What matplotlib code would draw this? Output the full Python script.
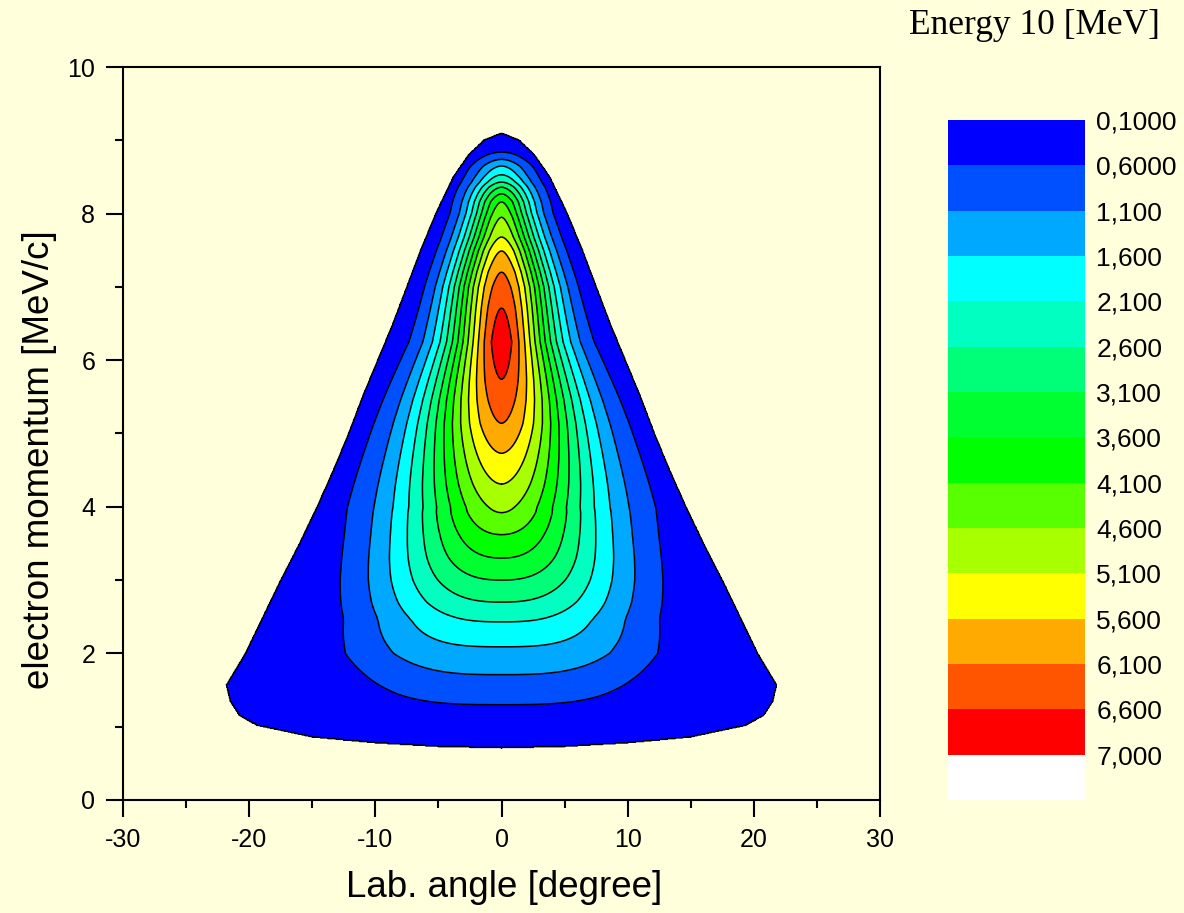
import numpy as np
import matplotlib
matplotlib.use("Agg")
import matplotlib.pyplot as plt

plt.rcParams['font.family'] = ['Liberation Sans', 'DejaVu Sans']
plt.rcParams['axes.unicode_minus'] = False

# values
# centre line (angle = 0): momentum where each level is crossed
center_y = [0.71, 1.30, 1.71, 2.09, 2.43, 2.70, 3.00, 3.30, 3.62, 3.92, 4.31, 4.73, 5.14, 5.74,
            6.25, 6.71, 7.20, 7.49, 7.68, 7.95, 8.16, 8.27, 8.36, 8.43, 8.53, 8.65, 8.74, 8.84, 9.10]
center_val = [0.1, 0.6, 1.1, 1.6, 2.1, 2.6, 3.1, 3.6, 4.1, 4.6, 5.1, 5.6, 6.1, 6.6,
              6.95, 6.6, 6.1, 5.6, 5.1, 4.6, 4.1, 3.6, 3.1, 2.6, 2.1, 1.6, 1.1, 0.6, 0.1]

# angular spread (scale and shape of the profile) at several momenta
width_y = [1.0, 1.5, 2.0, 2.5, 3.0, 4.0, 5.46, 6.25, 7.0, 8.0, 8.6, 9.1]
width_s = [13.5, 12.8, 12.8, 11.3, 10.4, 8.26, 5.9, 4.4, 3.98, 2.78, 2.5, 2.0]
width_p = [3.0, 3.0, 3.0, 2.6, 2.4, 1.85, 1.85, 1.75, 2.0, 1.8, 1.8, 1.8]

# outer (kinematic) boundary of the filled region
edge_y = [1.57, 2.0, 2.5, 3.0, 3.5, 4.0, 4.5, 5.0, 5.5, 6.0, 6.5, 7.0, 7.5, 8.0, 8.5, 8.8, 9.0, 9.1]
edge_half = [21.8, 20.3, 18.9, 17.5, 16.0, 14.6, 13.3, 12.1, 11.0, 9.8, 8.6, 7.5, 6.4, 5.2, 3.8, 2.6, 1.4, 0.0]
bottom_x = [0, 5, 10, 15, 19.4, 20.8, 21.5, 21.8]
bottom_y = [0.71, 0.73, 0.78, 0.86, 1.02, 1.16, 1.35, 1.57]

levels = [0.1, 0.6, 1.1, 1.6, 2.1, 2.6, 3.1, 3.6, 4.1, 4.6, 5.1, 5.6, 6.1, 6.6, 7.0, 7.5]
level_labels = ['0,1000', '0,6000', '1,100', '1,600', '2,100', '2,600', '3,100', '3,600',
                '4,100', '4,600', '5,100', '5,600', '6,100', '6,600', '7,000']
colors = ['#0000FF', '#0050FF', '#00A8FF', '#00FFFF', '#00FFC0', '#00FF78', '#00FF30', '#00FF00',
          '#58FF00', '#A8FF00', '#FFFF00', '#FFAA00', '#FF5500', '#FF0000', '#FFFFFF']

# build the field
x = np.linspace(-30, 30, 1201)
y = np.linspace(0, 10, 1001)
X, Y = np.meshgrid(x, y)
C = np.interp(Y, center_y, center_val)
S = np.interp(Y, width_y, width_s)
P = np.interp(Y, width_y, width_p)
F = C * np.exp(-(np.abs(X) / S) ** P)
inside = (Y >= np.interp(np.abs(X), bottom_x, bottom_y)) & (np.abs(X) < np.interp(Y, edge_y, edge_half))
F = np.where(inside, np.maximum(F, 0.13), 0.0)

bg = '#FFFFDC'
fig = plt.figure(figsize=(11.84, 9.13), dpi=100, facecolor=bg)
ax = fig.add_axes([0.1039, 0.1238, 0.6394, 0.8028], facecolor=bg)

cf = ax.contourf(X, Y, F, levels=levels, colors=colors)
ax.contour(X, Y, F, levels=levels[:-1], colors='k', linewidths=1.1)

ax.set_xlim(-30, 30)
ax.set_ylim(0, 10)
ax.set_xticks(np.arange(-30, 31, 10))
ax.set_xticks(np.arange(-25, 30, 10), minor=True)
ax.set_yticks(np.arange(0, 11, 2))
ax.set_yticks(np.arange(1, 10, 2), minor=True)
ax.tick_params(which='major', direction='out', length=12, width=1.5, labelsize=18, pad=8)
ax.tick_params(which='minor', direction='out', length=6, width=1.5)
ax.tick_params(top=False, right=False, which='both')
for sp in ax.spines.values():
    sp.set_linewidth(1.5)

ax.set_xlabel('Lab. angle [degree]', fontsize=26.5)
ax.set_ylabel('electron momentum [MeV/c]', fontsize=26.5)
ax.xaxis.set_label_coords(0.503, -0.12)
ax.xaxis.label.set_va('center')
ax.yaxis.set_label_coords(-0.11, 0.464)
ax.yaxis.label.set_va('center')

# colour scale
cax = fig.add_axes([0.8007, 0.1238, 0.1157, 0.7448])
cb = fig.colorbar(cf, cax=cax, spacing='uniform', ticks=levels[:-1])
cb.outline.set_visible(False)
cax.invert_yaxis()
cb.set_ticklabels(level_labels)
cax.tick_params(length=0, labelsize=19, pad=8)

fig.text(0.98, 0.972, 'Energy 10 [MeV]', ha='right', va='center', fontsize=25.5,
         family=['Liberation Serif', 'DejaVu Serif'])

fig.savefig('out.png', dpi=100, facecolor=bg)
